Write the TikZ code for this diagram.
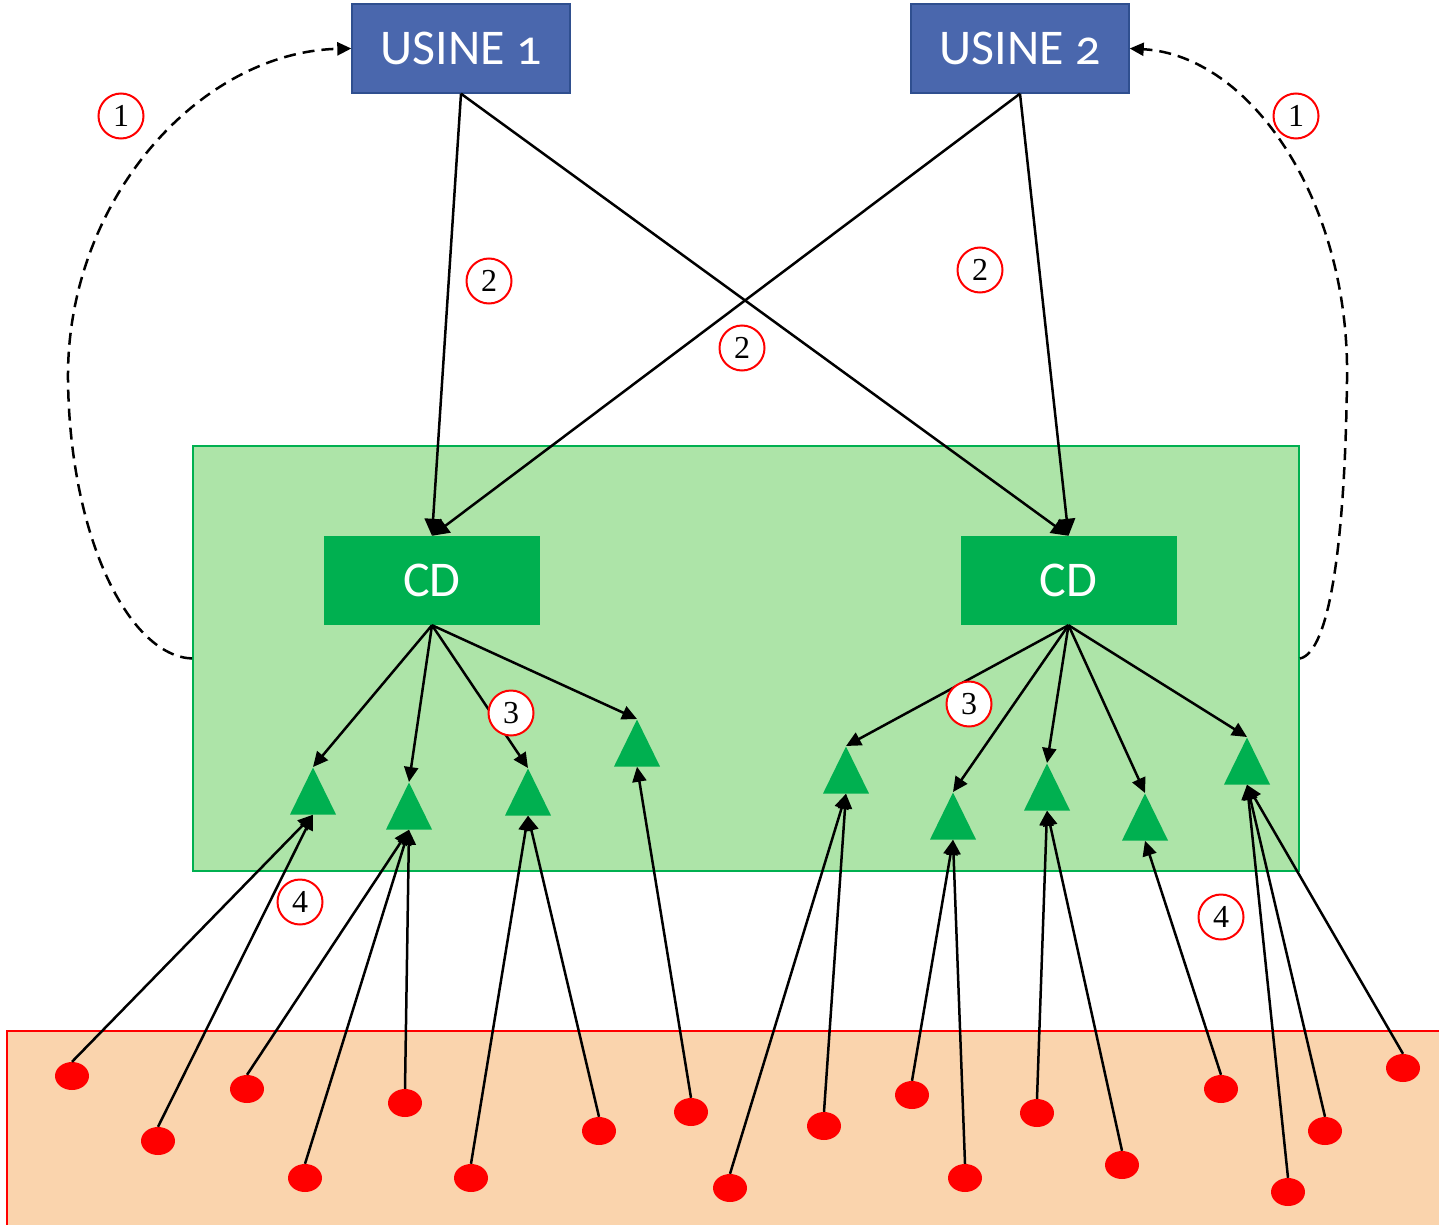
\documentclass[tikz,border=0pt]{standalone}
\usepackage{fontspec}
\setmainfont{Liberation Serif}
\newfontfamily\calib[Numbers=OldStyle]{Carlito}
\usetikzlibrary{arrows.meta,shapes.geometric}
\definecolor{usineblue}{HTML}{4A67AD}
\definecolor{usineedge}{HTML}{2F4F8F}
\definecolor{lightgreen}{HTML}{ADE4A8}
\definecolor{cdgreen}{HTML}{00B050}
\definecolor{peach}{HTML}{FAD4AD}
\tikzset{
  usine/.style={draw=usineedge, line width=1.4pt, fill=usineblue, text=white, minimum width=218pt, minimum height=89pt, inner sep=0pt, font=\calib\fontsize{50}{54}\selectfont},
  cdbox/.style={fill=cdgreen, text=white, minimum width=216pt, minimum height=89pt, inner sep=0pt, font=\calib\fontsize{50}{54}\selectfont},
  tri/.style={isosceles triangle, isosceles triangle stretches, shape border rotate=90, fill=cdgreen, minimum width=46pt, minimum height=47pt, inner sep=0pt},
  dot/.style={ellipse, fill=red, minimum width=34pt, minimum height=28pt, inner sep=0pt},
  num/.style={circle, draw=red, line width=2pt, fill=white, minimum size=45pt, inner sep=0pt, font=\fontsize{32}{34}\selectfont},
  arr/.style={-{Triangle[length=15pt,width=14pt]}, line width=2.5pt, black},
  bigarr/.style={-{Triangle[length=17pt,width=17pt]}, line width=2.5pt, black},
  dasharr/.style={-{Triangle[length=14pt,width=13pt]}, line width=2.5pt, dash pattern=on 12pt off 7pt, black},
}
\begin{document}
\begin{tikzpicture}[x=1pt,y=-1pt]
\useasboundingbox (0,0) rectangle (1439,1225);
% regions
\node[draw=cdgreen, line width=1.8pt, fill=lightgreen, minimum width=1106pt, minimum height=425pt, inner sep=0pt] (green) at (746,658.5) {};
\node[draw=red, line width=1.8pt, fill=peach, minimum width=1436pt, minimum height=198pt, inner sep=0pt, anchor=north west] (orange) at (6,1030) {};
% factories
\node[usine] (u1) at (461,48.5) {USINE 1};
\node[usine] (u2) at (1020,48.5) {USINE 2};
% distribution centres
\node[cdbox] (cd1) at (432,580.5) {CD};
\node[cdbox] (cd2) at (1068.5,580.5) {CD};
% triangles
\node[tri, anchor=apex] (t1) at (313,767) {};
\node[tri, anchor=apex] (t2) at (409,782) {};
\node[tri, anchor=apex] (t3) at (528,768) {};
\node[tri, anchor=apex] (t4) at (637,719) {};
\node[tri, anchor=apex] (t5) at (846,746) {};
\node[tri, anchor=apex] (t6) at (953,792) {};
\node[tri, anchor=apex] (t7) at (1047,763) {};
\node[tri, anchor=apex] (t8) at (1145,793) {};
\node[tri, anchor=apex] (t9) at (1247,737) {};
% customers
\node[dot] (d1) at (72,1076) {};
\node[dot] (d2) at (158,1141) {};
\node[dot] (d3) at (247,1089) {};
\node[dot] (d4) at (305,1178) {};
\node[dot] (d5) at (405,1103) {};
\node[dot] (d6) at (471,1178) {};
\node[dot] (d7) at (599,1131) {};
\node[dot] (d8) at (691,1112) {};
\node[dot] (d9) at (730,1188) {};
\node[dot] (d10) at (824,1126) {};
\node[dot] (d11) at (912,1095) {};
\node[dot] (d12) at (965,1178) {};
\node[dot] (d13) at (1037,1113) {};
\node[dot] (d14) at (1122,1165) {};
\node[dot] (d15) at (1221,1089) {};
\node[dot] (d16) at (1288,1192) {};
\node[dot] (d17) at (1325,1131) {};
\node[dot] (d18) at (1403,1068) {};
% factory -> CD
\draw[bigarr] (u1.south) -- (cd1.north);
\draw[bigarr] (u1.south) -- (cd2.north);
\draw[bigarr] (u2.south) -- (cd1.north);
\draw[bigarr] (u2.south) -- (cd2.north);
% CD -> triangles
\foreach \t in {t1,t2,t3,t4} \draw[arr] (cd1.south) -- (\t.apex);
\foreach \t in {t5,t6,t7,t8,t9} \draw[arr] (cd2.south) -- (\t.apex);
% customers -> triangles
\foreach \d/\t in {d1/t1,d2/t1,d3/t2,d4/t2,d5/t2,d6/t3,d7/t3,d8/t4,d9/t5,d10/t5,d11/t6,d12/t6,d13/t7,d14/t7,d15/t8,d16/t9,d17/t9,d18/t9}
  \draw[arr] (\d.north) -- (\t.lower side);
% dashed feedback
\draw[dasharr] (green.west) .. controls (130,656) and (70,540) .. (68,380) .. controls (66,200) and (200,52) .. (u1.west);
\draw[dasharr] (green.east) .. controls (1330,652) and (1345,540) .. (1347,380) .. controls (1350,200) and (1250,55) .. (u2.east);
% step labels
\node[num] (n1a) at (121,116) {1};
\node[num] (n1b) at (1296,116) {1};
\node[num] (n2a) at (489,281) {2};
\node[num] (n2b) at (980,270) {2};
\node[num] (n2c) at (742,348) {2};
\node[num] (n3a) at (511,713) {3};
\node[num] (n3b) at (969,704) {3};
\node[num] (n4a) at (300,902) {4};
\node[num] (n4b) at (1221,917) {4};
\end{tikzpicture}
\end{document}
